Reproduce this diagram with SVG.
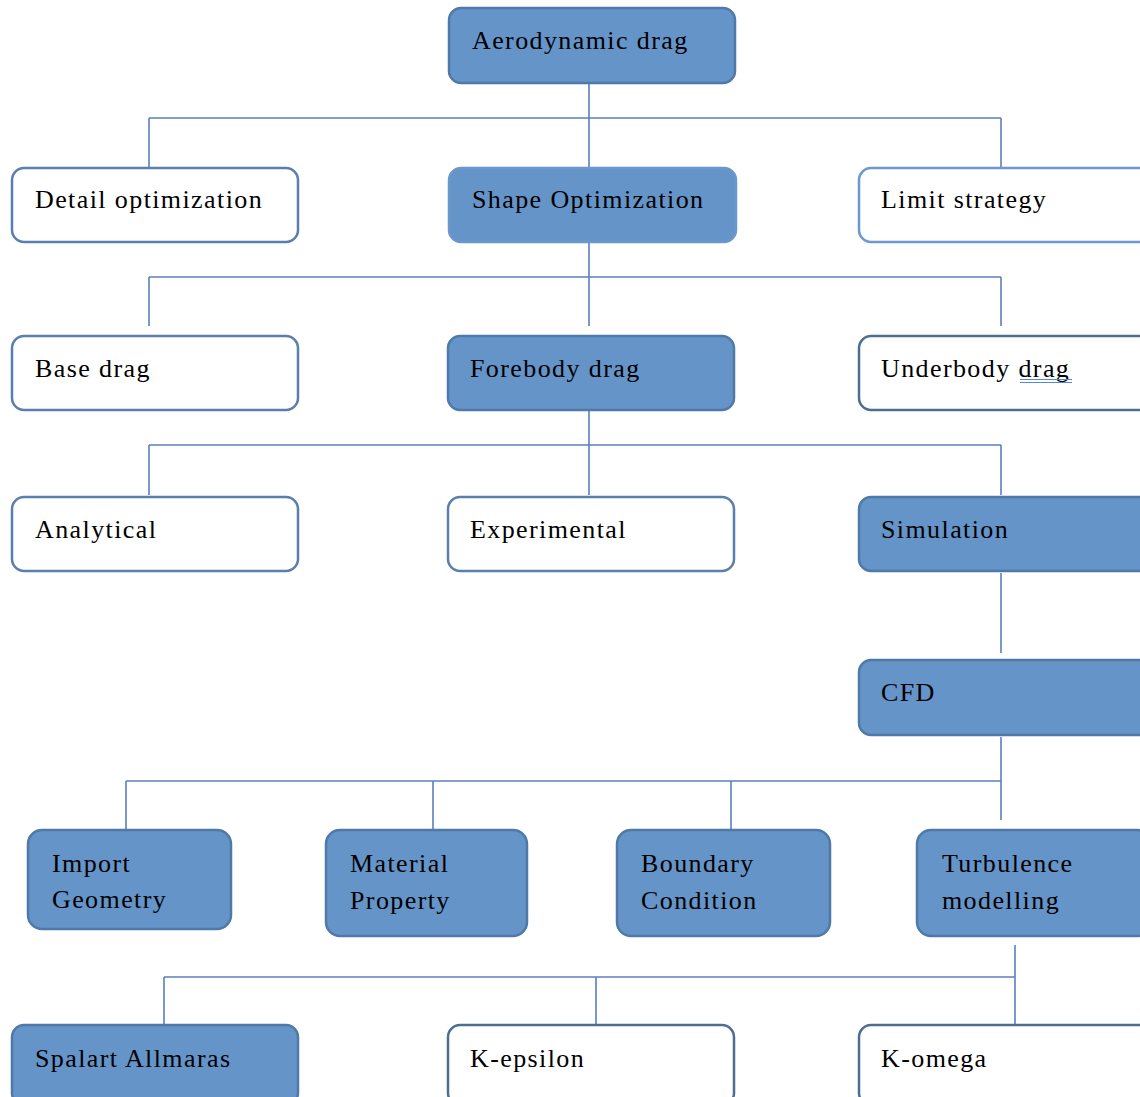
<svg xmlns="http://www.w3.org/2000/svg" width="1140" height="1097" viewBox="0 0 1140 1097">
<style>
.f{fill:#6594c9;stroke:#4f79a8;stroke-width:2.5}
.w{fill:#ffffff;stroke:#5a7fae;stroke-width:2.5}
.t{font-family:"Liberation Serif","Times New Roman",serif;font-size:26px;fill:#000;letter-spacing:1.4px}
.c{stroke:#5b7fc0;stroke-width:1.6;fill:none}
</style>
<rect width="1140" height="1097" fill="#ffffff"/>
<g id="connectors">
<path class="c" d="M589 84V167M149 118H1001M149 118V167M1001 118V167"/>
<path class="c" d="M589 243V326M149 277H1001M149 277V326M1001 277V326"/>
<path class="c" d="M589 411V495M149 445H1001M149 445V495M1001 445V495"/>
<path class="c" d="M1001 573V653"/>
<path class="c" d="M1001 737V820M126 781H1001M126 781V829M433 781V829M731 781V829"/>
<path class="c" d="M1015 945V1025M164 977H1015M164 977V1025M596 977V1025"/>
</g>
<g id="aerodynamic-drag"><rect class="f" x="449" y="8" width="286" height="75" rx="12"/><text class="t" x="472" y="49">Aerodynamic drag</text></g>
<g id="detail-optimization"><rect class="w" x="12" y="168" width="286" height="74" rx="12"/><text class="t" x="35" y="208">Detail optimization</text></g>
<g id="shape-optimization"><rect class="f" x="449" y="168" width="287" height="74" rx="12" style="stroke:#6a97cc"/><text class="t" x="472" y="208">Shape Optimization</text></g>
<g id="limit-strategy"><rect class="w" x="859" y="168" width="292" height="74" rx="12" style="stroke:#6d98cf"/><text class="t" x="881" y="208">Limit strategy</text></g>
<g id="base-drag"><rect class="w" x="12" y="336" width="286" height="74" rx="12"/><text class="t" x="35" y="377">Base drag</text></g>
<g id="forebody-drag"><rect class="f" x="448" y="336" width="286" height="74" rx="12"/><text class="t" x="470" y="377">Forebody drag</text></g>
<g id="underbody-drag"><rect class="w" x="859" y="336" width="292" height="74" rx="12" style="stroke:#4d6e93"/><text class="t" x="881" y="377">Underbody drag</text><path d="M1020 379.5H1072M1020 382.5H1072" stroke="#5b86d6" stroke-width="1"/></g>
<g id="analytical"><rect class="w" x="12" y="497" width="286" height="74" rx="12"/><text class="t" x="35" y="538">Analytical</text></g>
<g id="experimental"><rect class="w" x="448" y="497" width="286" height="74" rx="12"/><text class="t" x="470" y="538">Experimental</text></g>
<g id="simulation"><rect class="f" x="859" y="497" width="292" height="74" rx="12"/><text class="t" x="881" y="538">Simulation</text></g>
<g id="cfd"><rect class="f" x="859" y="660" width="292" height="75" rx="12"/><text class="t" x="881" y="701">CFD</text></g>
<g id="import-geometry"><rect class="f" x="28" y="830" width="203" height="99" rx="14"/><text class="t" x="52" y="872">Import</text><text class="t" x="52" y="908">Geometry</text></g>
<g id="material-property"><rect class="f" x="326" y="830" width="201" height="106" rx="14"/><text class="t" x="350" y="872">Material</text><text class="t" x="350" y="909">Property</text></g>
<g id="boundary-condition"><rect class="f" x="617" y="830" width="213" height="106" rx="14"/><text class="t" x="641" y="872">Boundary</text><text class="t" x="641" y="909">Condition</text></g>
<g id="turbulence-modelling"><rect class="f" x="917" y="830" width="234" height="106" rx="14"/><text class="t" x="942" y="872">Turbulence</text><text class="t" x="942" y="909">modelling</text></g>
<g id="spalart-allmaras"><rect class="f" x="12" y="1025" width="286" height="80" rx="12"/><text class="t" x="35" y="1067">Spalart Allmaras</text></g>
<g id="k-epsilon"><rect class="w" x="448" y="1025" width="286" height="80" rx="12" style="stroke:#4d6e93"/><text class="t" x="470" y="1067">K-epsilon</text></g>
<g id="k-omega"><rect class="w" x="859" y="1025" width="292" height="80" rx="12" style="stroke:#4d6e93"/><text class="t" x="881" y="1067">K-omega</text></g>
</svg>
